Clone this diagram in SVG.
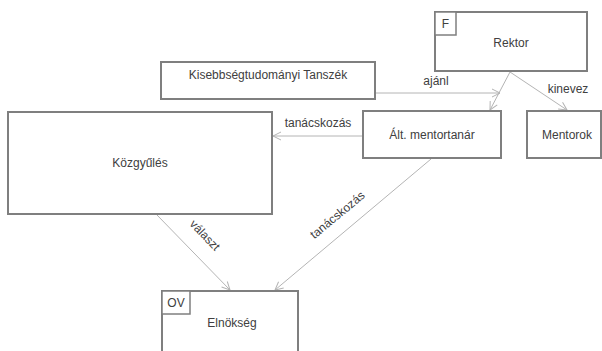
<svg xmlns="http://www.w3.org/2000/svg" width="602" height="351" viewBox="0 0 602 351">
<defs>
<style>
.box{fill:#fff;stroke:#7f7f7f;stroke-width:2}
.tag{fill:#fff;stroke:#7f7f7f;stroke-width:1.5}
.t{font-family:"Liberation Sans",Arial,sans-serif;font-size:12px;fill:#404040;text-anchor:middle}
.c{fill:none;stroke:#b4b4b4;stroke-width:1}
</style>
<marker id="ah" markerWidth="10" markerHeight="10" refX="9" refY="5" orient="auto" markerUnits="userSpaceOnUse">
<path d="M1,1 L9,5 L1,9" fill="none" stroke="#b4b4b4" stroke-width="1"/>
</marker>
</defs>
<rect width="602" height="351" fill="#fff"/>
<g id="connectors">
<line class="c" x1="375" y1="93" x2="500" y2="93" marker-end="url(#ah)"/>
<line class="c" x1="510" y1="72" x2="490" y2="110" marker-end="url(#ah)"/>
<line class="c" x1="510" y1="72" x2="567" y2="110" marker-end="url(#ah)"/>
<line class="c" x1="363" y1="136" x2="273" y2="136" marker-end="url(#ah)"/>
<line class="c" x1="157" y1="215" x2="230" y2="290" marker-end="url(#ah)"/>
<line class="c" x1="431" y1="159" x2="275" y2="290" marker-end="url(#ah)"/>
<text class="t" x="436" y="85">ajánl</text>
<text class="t" x="568" y="93">kinevez</text>
<text class="t" x="318" y="127">tanácskozás</text>
<text class="t" transform="translate(202,238) rotate(46)">választ</text>
<text class="t" transform="translate(340,218) rotate(-39.6)">tanácskozás</text>
</g>
<g id="rektor">
<rect class="box" x="435" y="12" width="152" height="59"/>
<rect class="tag" x="435" y="12" width="21" height="23"/>
<text class="t" x="445.5" y="28">F</text>
<text class="t" x="511" y="47">Rektor</text>
</g>
<g id="tanszek">
<rect class="box" x="161" y="62" width="214" height="37"/>
<text class="t" x="268" y="79">Kisebbségtudományi  Tanszék</text>
</g>
<g id="mentortanar">
<rect class="box" x="363" y="111" width="138" height="47"/>
<text class="t" x="432" y="139">Ált. mentortanár</text>
</g>
<g id="mentorok">
<rect class="box" x="527" y="111" width="74" height="47"/>
<text class="t" x="567" y="139">Mentorok</text>
</g>
<g id="kozgyules">
<rect class="box" x="8" y="112" width="264" height="102"/>
<text class="t" x="140" y="167">Közgyűlés</text>
</g>
<g id="elnokseg">
<rect class="box" x="162" y="291" width="136" height="70"/>
<rect class="tag" x="162" y="291" width="28" height="23"/>
<text class="t" x="176" y="307">OV</text>
<text class="t" x="232" y="327">Elnökség</text>
</g>
</svg>
